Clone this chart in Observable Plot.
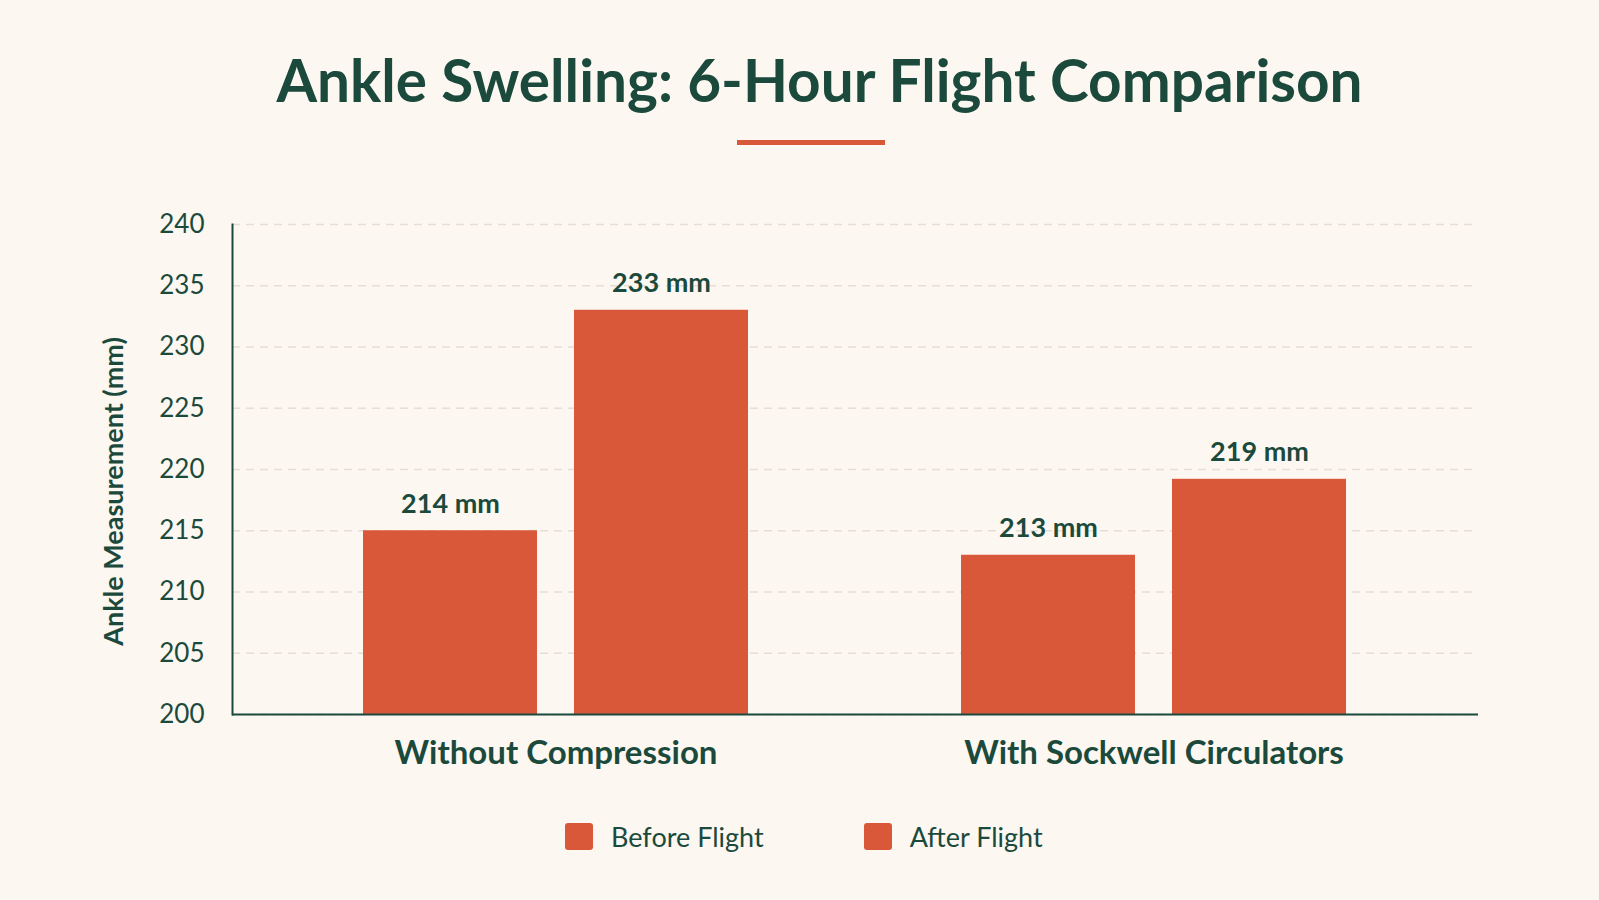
<!DOCTYPE html>
<html>
<head>
<meta charset="utf-8">
<script src="https://cdn.jsdelivr.net/npm/d3@7"></script>
<script src="https://cdn.jsdelivr.net/npm/@observablehq/plot@0.6"></script>
<style>
  html, body { margin: 0; padding: 0; background: #fcf7f1; }
  body { width: 1599px; height: 900px; position: relative; overflow: hidden; font-family: Lato, "Noto Sans", sans-serif; color: #1b4a3c; }
  #title { position: absolute; top: 50px; left: 40px; width: 1559px; text-align: center; font-size: 58.5px; line-height: 58px; font-weight: 700; color: #1b4a3c; }
  #rule { position: absolute; top: 140px; left: 737px; width: 148px; height: 5px; background: #d9583a; }
  #chart { position: absolute; top: 190px; left: 0; }
  #legend { position: absolute; top: 820px; left: 565px; display: flex; align-items: center; font-size: 27px; color: #1b4a3c; }
  .item { display: flex; align-items: center; }
  .sw { width: 28px; height: 27px; border-radius: 3px; background: #d9583a; margin-right: 18px; }
</style>
</head>
<body>
<div id="title"></div>
<div id="rule"></div>
<div id="chart"></div>
<div id="legend"></div>
<script>
const titleText = "Ankle Swelling: 6-Hour Flight Comparison";
const groups = ["Without Compression", "With Sockwell Circulators"];
const seriesNames = ["Before Flight", "After Flight"];
const beforeValues = [215, 213];
const afterValues = [233, 219.2];
const beforeLabels = ["214 mm", "213 mm"];
const afterLabels = ["233 mm", "219 mm"];
const yTicks = [200, 205, 210, 215, 220, 225, 230, 235, 240];
const yTitle = "Ankle Measurement (mm)";

const orange = "#d9583a";
const green = "#1b4a3c";

const beforeRows = groups.map((g, i) => ({group: g, value: beforeValues[i], label: beforeLabels[i]}));
const afterRows = groups.map((g, i) => ({group: g, value: afterValues[i], label: afterLabels[i]}));

document.getElementById("title").textContent = titleText;

const chart = Plot.plot({
  width: 1599,
  height: 600,
  marginLeft: 232,
  marginRight: 121,
  marginTop: 34,
  marginBottom: 76,
  style: {background: "transparent", fontFamily: "Lato, 'Noto Sans', sans-serif", color: green},
  x: {type: "band", domain: groups, paddingInner: 0.3554, paddingOuter: 0.2181, label: null},
  y: {domain: [yTicks[0], yTicks[yTicks.length - 1]], label: null},
  marks: [
    Plot.gridY(yTicks, {stroke: "#e4ded6", strokeOpacity: 1, strokeWidth: 1.3, strokeDasharray: "8,6"}),
    Plot.barY(beforeRows, {x: "group", y1: yTicks[0], y2: "value", fill: orange, insetRight: 211}),
    Plot.barY(afterRows, {x: "group", y1: yTicks[0], y2: "value", fill: orange, insetLeft: 211}),
    Plot.text(beforeRows, {x: "group", y: "value", text: "label", dx: -105.5, dy: -18, lineAnchor: "bottom", fontSize: 27, fontWeight: 700, fill: green}),
    Plot.text(afterRows, {x: "group", y: "value", text: "label", dx: 105.5, dy: -18, lineAnchor: "bottom", fontSize: 27, fontWeight: 700, fill: green}),
    Plot.ruleY([yTicks[0]], {stroke: green, strokeWidth: 2}),
    Plot.frame({anchor: "left", stroke: green, strokeWidth: 2}),
    Plot.axisY(yTicks, {tickSize: 0, tickPadding: 28, fontSize: 26, fill: green, label: null}),
    Plot.axisX({tickSize: 0, tickPadding: 26, fontSize: 33, fontWeight: 700, fill: green, label: null}),
    Plot.text([yTitle], {frameAnchor: "left", textAnchor: "middle", rotate: -90, dx: -118, dy: 22, fontSize: 27, fontWeight: 700, fill: green})
  ]
});
document.getElementById("chart").appendChild(chart);

const legend = document.getElementById("legend");
seriesNames.forEach((name, i) => {
  const item = document.createElement("div");
  item.className = "item";
  if (i > 0) item.style.marginLeft = "100px";
  const sw = document.createElement("div");
  sw.className = "sw";
  const lab = document.createElement("span");
  lab.textContent = name;
  item.appendChild(sw);
  item.appendChild(lab);
  legend.appendChild(item);
});
</script>
</body>
</html>
